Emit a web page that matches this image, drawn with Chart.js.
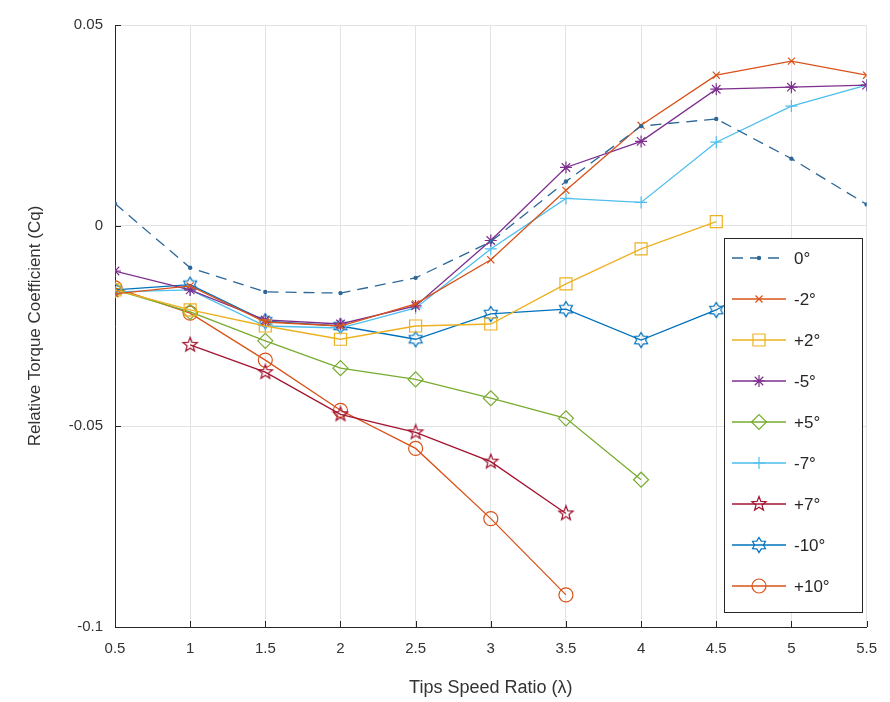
<!DOCTYPE html>
<html>
<head>
<meta charset="utf-8">
<script src="https://cdn.jsdelivr.net/npm/chart.js@4/dist/chart.umd.min.js"></script>
<style>
  html, body { margin: 0; padding: 0; background: #fff; }
  #wrap { width: 890px; height: 702px; }
</style>
</head>
<body>
<div id="wrap"><canvas id="myChart" width="890" height="702"></canvas></div>
<script>
// tip speed ratio values on the x axis
const lambda = [0.5, 1, 1.5, 2, 2.5, 3, 3.5, 4, 4.5, 5, 5.5];

// relative torque coefficient per pitch angle (null = not measured)
const cq0   = [0.0055, -0.0105, -0.0165, -0.0168, -0.0130, -0.0040, 0.0110, 0.0248, 0.0266, 0.0167, 0.0053];
const cqM2  = [-0.0170, -0.0150, -0.0240, -0.0250, -0.0195, -0.0085, 0.0088, 0.0250, 0.0375, 0.0410, 0.0375];
const cqP2  = [-0.0160, -0.0210, -0.0250, -0.0283, -0.0250, -0.0245, -0.0145, -0.0058, 0.0010, null, null];
const cqM5  = [-0.0113, -0.0160, -0.0235, -0.0245, -0.0200, -0.0037, 0.0145, 0.0210, 0.0340, 0.0345, 0.0350];
const cqP5  = [-0.0160, -0.0215, -0.0287, -0.0355, -0.0383, -0.0430, -0.0480, -0.0633, null, null, null];
const cqM7  = [-0.0165, -0.0160, -0.0250, -0.0255, -0.0205, -0.0058, 0.0068, 0.0058, 0.0208, 0.0298, 0.0350];
const cqP7  = [null, -0.0297, -0.0365, -0.0470, -0.0515, -0.0588, -0.0717, null, null, null, null];
const cqM10 = [-0.0160, -0.0147, -0.0238, -0.0250, -0.0283, -0.0220, -0.0208, -0.0285, -0.0210, -0.0100, null];
const cqP10 = [-0.0155, -0.0218, -0.0335, -0.0460, -0.0555, -0.0730, -0.0920, null, null, null, null];

const seriesLabels = ['0°', '-2°', '+2°', '-5°', '+5°', '-7°', '+7°', '-10°', '+10°'];
const xTicks = [0.5, 1, 1.5, 2, 2.5, 3, 3.5, 4, 4.5, 5, 5.5];
const yTicks = [-0.1, -0.05, 0, 0.05];

// star shaped markers that chart.js doesn't have
function starMarker(n, inner, color) {
    const c = document.createElement('canvas');
    c.width = 18; c.height = 18;
    const ctx = c.getContext('2d');
    const R = 7.5, r = R * inner;
    ctx.beginPath();
    for (let i = 0; i < n * 2; i++) {
        const a = -Math.PI / 2 + i * Math.PI / n;
        const rr = (i % 2 === 0) ? R : r;
        const px = 9 + rr * Math.cos(a), py = 9 + rr * Math.sin(a);
        if (i === 0) ctx.moveTo(px, py); else ctx.lineTo(px, py);
    }
    ctx.closePath();
    ctx.strokeStyle = color;
    ctx.lineWidth = 1.2;
    ctx.stroke();
    return c;
}

function pts(arr) {
    return lambda.map((x, i) => ({ x: x, y: arr[i] })).filter(p => p.y !== null);
}

function ds(label, arr, color, style, radius, extra) {
    return Object.assign({
        label: label,
        data: pts(arr),
        borderColor: color,
        borderWidth: 1.3,
        pointStyle: style,
        pointRadius: radius,
        pointHoverRadius: radius,
        pointBorderColor: color,
        pointBackgroundColor: 'rgba(0,0,0,0)',
        pointBorderWidth: 1.2,
        tension: 0,
        fill: false
    }, extra || {});
}

const blue = '#0072BD', orange = '#D95319', yellow = '#EDB120', purple = '#7E2F8E',
      green = '#77AC30', cyan = '#4DBEEE', red = '#A2142F';

const datasets = [
    ds(seriesLabels[0], cq0, '#2d6797', 'circle', 1.6, { borderDash: [11, 7], pointBackgroundColor: '#2d6797' }),
    ds(seriesLabels[1], cqM2, orange, 'crossRot', 5),
    ds(seriesLabels[2], cqP2, yellow, 'rect', 8.5),
    ds(seriesLabels[3], cqM5, purple, 'star', 6),
    ds(seriesLabels[4], cqP5, green, 'rectRot', 7.5),
    ds(seriesLabels[5], cqM7, cyan, 'cross', 6),
    ds(seriesLabels[6], cqP7, red, starMarker(5, 0.42, red), 7),
    ds(seriesLabels[7], cqM10, blue, starMarker(6, 0.6, blue), 7),
    ds(seriesLabels[8], cqP10, orange, 'circle', 7)
];

// box legend inside the plot, matlab style
const boxLegend = {
    id: 'boxLegend',
    afterDraw(chart) {
        const ctx = chart.ctx;
        const left = 724, top = 238, w = 138, h = 374, step = 41;
        ctx.save();
        ctx.fillStyle = '#fff';
        ctx.fillRect(left, top, w, h);
        ctx.strokeStyle = '#262626';
        ctx.lineWidth = 1;
        ctx.strokeRect(left + 0.5, top + 0.5, w, h);
        chart.data.datasets.forEach((d, i) => {
            const y = top + 20 + i * step;
            ctx.beginPath();
            ctx.setLineDash(d.borderDash || []);
            ctx.strokeStyle = d.borderColor;
            ctx.lineWidth = d.borderWidth;
            ctx.moveTo(left + 8, y);
            ctx.lineTo(left + 62, y);
            ctx.stroke();
            ctx.setLineDash([]);
            ctx.strokeStyle = d.pointBorderColor;
            ctx.fillStyle = d.pointBackgroundColor;
            ctx.lineWidth = d.pointBorderWidth;
            Chart.helpers.drawPoint(ctx, {
                pointStyle: d.pointStyle, radius: d.pointRadius, borderWidth: d.pointBorderWidth, rotation: 0
            }, left + 35, y);
            ctx.fillStyle = '#262626';
            ctx.font = '17px "Liberation Sans", Arial, sans-serif';
            ctx.textBaseline = 'middle';
            ctx.textAlign = 'left';
            ctx.fillText(d.label, left + 70, y + 1);
        });
        ctx.restore();
    }
};

// small inward tick marks on the left and bottom axes
const innerTicks = {
    id: 'innerTicks',
    afterDatasetsDraw(chart) {
        const ctx = chart.ctx, a = chart.chartArea;
        const xs = chart.scales.x, ys = chart.scales.y;
        ctx.save();
        ctx.strokeStyle = '#262626';
        ctx.lineWidth = 1;
        ctx.beginPath();
        xTicks.forEach(v => {
            const px = Math.round(xs.getPixelForValue(v)) + 0.5;
            ctx.moveTo(px, a.bottom); ctx.lineTo(px, a.bottom - 6);
        });
        yTicks.forEach(v => {
            const py = Math.round(ys.getPixelForValue(v)) + 0.5;
            ctx.moveTo(a.left, py); ctx.lineTo(a.left + 6, py);
        });
        ctx.stroke();
        ctx.restore();
    }
};

const tickFont = { family: '"Liberation Sans", Arial, sans-serif', size: 15 };

var myChart = new Chart('myChart', {
    type: 'line',
    data: { datasets: datasets },
    options: {
        responsive: false,
        animation: false,
        layout: { padding: { top: 25, right: 12, left: 0, bottom: 0 } },
        plugins: { legend: { display: false }, tooltip: { enabled: false } },
        scales: {
            x: {
                type: 'linear',
                min: 0.5, max: 5.5,
                afterBuildTicks: s => { s.ticks = xTicks.map(v => ({ value: v })); },
                afterFit: s => { s.height = 75; },
                ticks: { font: tickFont, color: '#333', padding: 13, maxRotation: 0,
                         callback: v => String(Number(v.toFixed(2))) },
                grid: { color: '#e3e3e3', drawTicks: false },
                border: { color: '#262626', width: 1 },
                title: { display: true, text: 'Tips Speed Ratio (λ)', color: '#333',
                         font: { family: '"Liberation Sans", Arial, sans-serif', size: 18 },
                         padding: { top: 0, bottom: 3 } }
            },
            y: {
                min: -0.1, max: 0.05,
                afterBuildTicks: s => { s.ticks = yTicks.map(v => ({ value: v })); },
                afterFit: s => { s.width = 115; },
                ticks: { font: tickFont, color: '#333', padding: 12,
                         callback: v => String(Number(v.toFixed(3))) },
                grid: { color: '#e3e3e3', drawTicks: false },
                border: { color: '#262626', width: 1 },
                title: { display: true, text: 'Relative Torque Coefficient (Cq)', color: '#333',
                         font: { family: '"Liberation Sans", Arial, sans-serif', size: 17 },
                         padding: { top: 25, bottom: 0 } }
            }
        }
    },
    plugins: [innerTicks, boxLegend]
});
</script>
</body>
</html>
